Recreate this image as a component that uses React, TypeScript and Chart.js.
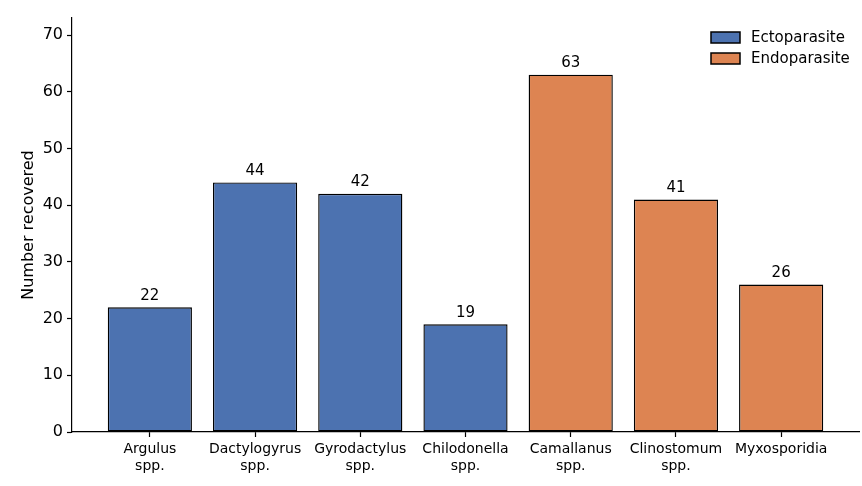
import { useEffect, useRef } from "react";
import { Chart, registerables } from "chart.js";

Chart.register(...registerables);

const CATEGORIES = [
  ["Argulus", "spp."],
  ["Dactylogyrus", "spp."],
  ["Gyrodactylus", "spp."],
  ["Chilodonella", "spp."],
  ["Camallanus", "spp."],
  ["Clinostomum", "spp."],
  ["Myxosporidia"],
];
const ECTO_IDX = [0, 1, 2, 3];
const ECTO_VALUES = [22, 44, 42, 19];
const ENDO_IDX = [4, 5, 6];
const ENDO_VALUES = [63, 41, 26];
const Y_TICKS = [0, 10, 20, 30, 40, 50, 60, 70];
const SERIES = ["Ectoparasite", "Endoparasite"];
const COLORS = ["#4C72B0", "#DD8452"];
const FONT = "'DejaVu Sans', sans-serif";

// numbers above each bar
const valueLabels = {
  id: "valueLabels",
  afterDatasetsDraw(chart: any) {
    const ctx = chart.ctx;
    ctx.save();
    ctx.font = `15px ${FONT}`;
    ctx.fillStyle = "#000";
    ctx.textAlign = "center";
    ctx.textBaseline = "bottom";
    chart.data.datasets.forEach((ds: any, di: number) => {
      chart.getDatasetMeta(di).data.forEach((el: any, i: number) => {
        ctx.fillText(String(ds.data[i].y), el.x, el.y - 4);
      });
    });
    ctx.restore();
  },
};

// matplotlib-ish frameless legend, upper right inside the axes
const boxLegend = {
  id: "boxLegend",
  afterDraw(chart: any) {
    const ctx = chart.ctx;
    const { right, top } = chart.chartArea;
    ctx.save();
    ctx.font = `15px ${FONT}`;
    ctx.textBaseline = "middle";
    ctx.textAlign = "left";
    SERIES.forEach((name, i) => {
      const y = top + 14 + i * 21;
      const x = right - 148;
      ctx.fillStyle = COLORS[i];
      ctx.fillRect(x, y, 29, 11);
      ctx.strokeStyle = "#000";
      ctx.lineWidth = 1.5;
      ctx.strokeRect(x, y, 29, 11);
      ctx.fillStyle = "#000";
      ctx.fillText(name, x + 40, y + 6.5);
    });
    ctx.restore();
  },
};

export default function App() {
  const canvasRef = useRef<HTMLCanvasElement | null>(null);

  useEffect(() => {
    document.body.style.margin = "0";
    const canvas = canvasRef.current;
    if (!canvas) return;
    const chart = new Chart(canvas, {
      type: "bar",
      data: {
        datasets: [
          {
            label: SERIES[0],
            data: ECTO_IDX.map((x, i) => ({ x, y: ECTO_VALUES[i] })),
            backgroundColor: COLORS[0],
            borderColor: "#000",
            borderWidth: 1.4,
            borderSkipped: false,
            grouped: false,
          },
          {
            label: SERIES[1],
            data: ENDO_IDX.map((x, i) => ({ x, y: ENDO_VALUES[i] })),
            backgroundColor: COLORS[1],
            borderColor: "#000",
            borderWidth: 1.4,
            borderSkipped: false,
            grouped: false,
          },
        ] as any,
      },
      options: {
        animation: false,
        responsive: false,
        devicePixelRatio: 1,
        categoryPercentage: 1,
        barPercentage: 0.8,
        layout: { padding: { top: 18, right: 3, left: 0, bottom: 0 } },
        plugins: { legend: { display: false }, tooltip: { enabled: false } },
        scales: {
          x: {
            type: "linear",
            min: -0.74,
            max: 6.74,
            offset: false,
            afterBuildTicks: (s: any) => {
              s.ticks = CATEGORIES.map((_, i) => ({ value: i }));
            },
            afterFit: (s: any) => {
              s.height = 54;
            },
            grid: {
              offset: false,
              drawOnChartArea: false,
              drawTicks: true,
              tickLength: 5,
              tickColor: "#000",
              tickWidth: 1.2,
              color: "#000",
            },
            border: { display: true, color: "#000", width: 1.2 },
            ticks: {
              color: "#000",
              font: { family: FONT, size: 14 },
              padding: 4,
              maxRotation: 0,
              autoSkip: false,
              callback: (v: any) => CATEGORIES[v] ?? "",
            },
          },
          y: {
            min: 0,
            max: 73,
            afterBuildTicks: (s: any) => {
              s.ticks = Y_TICKS.map((value) => ({ value }));
            },
            afterFit: (s: any) => {
              s.width = 72;
            },
            grid: {
              drawOnChartArea: false,
              drawTicks: true,
              tickLength: 5,
              tickColor: "#000",
              tickWidth: 1.2,
              color: "#000",
            },
            border: { display: true, color: "#000", width: 1.2 },
            ticks: { color: "#000", font: { family: FONT, size: 16 }, padding: 4 },
            title: {
              display: true,
              text: "Number recovered",
              color: "#000",
              font: { family: FONT, size: 16 },
              padding: { top: 19, bottom: 0 },
            },
          },
        },
      },
      plugins: [valueLabels, boxLegend],
    });
    return () => chart.destroy();
  }, []);

  return (
    <div style={{ width: 862, height: 486, background: "#fff" }}>
      <canvas ref={canvasRef} width={862} height={486} />
    </div>
  );
}
